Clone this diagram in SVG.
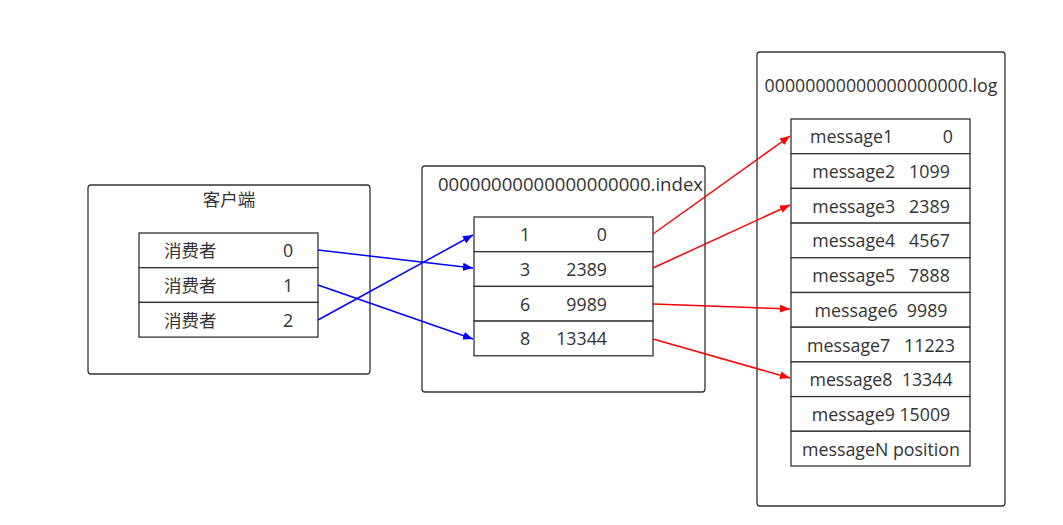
<svg xmlns="http://www.w3.org/2000/svg" width="1063" height="525" viewBox="0 0 1063 525">
<defs>
<style>
.box{fill:#fff;stroke:#333;stroke-width:1.3}
.cell{fill:#fff;stroke:#333;stroke-width:1.3}
text{font-family:"Open Sans","Noto Sans","Noto Sans CJK SC",sans-serif;font-size:17.8px;fill:#333}
.cjk{font-size:17.5px}
.c{text-anchor:middle}
.e{text-anchor:end}
.blue{stroke:#0000ff;stroke-width:1.5;fill:none;marker-end:url(#ab)}
.red{stroke:#ff0000;stroke-width:1.5;fill:none;marker-end:url(#ar)}
</style>
<marker id="ab" viewBox="0 0 10 10" refX="10" refY="5" markerWidth="10" markerHeight="10" markerUnits="userSpaceOnUse" orient="auto"><path d="M0,1 L10,5 L0,9 Z" fill="#0000ff"/></marker>
<marker id="ar" viewBox="0 0 10 10" refX="10" refY="5" markerWidth="10" markerHeight="10" markerUnits="userSpaceOnUse" orient="auto"><path d="M0,1 L10,5 L0,9 Z" fill="#ff0000"/></marker>
</defs>
<rect width="1063" height="525" fill="#fff"/>
<g id="client">
<rect class="box" x="88" y="185" width="282" height="189" rx="3"/>
<text class="c cjk" x="229" y="206">客户端</text>
<rect class="cell" x="139" y="233" width="179" height="34.7"/>
<rect class="cell" x="139" y="267.7" width="179" height="34.7"/>
<rect class="cell" x="139" y="302.4" width="179" height="34.7"/>
<text class="cjk" x="164" y="257">消费者</text><text class="c" x="288" y="257">0</text>
<text class="cjk" x="164" y="292">消费者</text><text class="c" x="288" y="292">1</text>
<text class="cjk" x="164" y="327">消费者</text><text class="c" x="288" y="327">2</text>
</g>
<g id="index">
<rect class="box" x="422" y="166" width="283" height="226" rx="3"/>
<text class="c" x="570.5" y="191" style="font-size:18.6px">00000000000000000000.index</text>
<rect class="cell" x="474" y="217" width="179" height="34.7"/>
<rect class="cell" x="474" y="251.7" width="179" height="34.7"/>
<rect class="cell" x="474" y="286.4" width="179" height="34.7"/>
<rect class="cell" x="474" y="321.1" width="179" height="34.7"/>
<text class="c" x="525" y="241">1</text><text class="e" x="607" y="241">0</text>
<text class="c" x="525" y="276">3</text><text class="e" x="607" y="276">2389</text>
<text class="c" x="525" y="311">6</text><text class="e" x="607" y="311">9989</text>
<text class="c" x="525" y="345">8</text><text class="e" x="607" y="345">13344</text>
</g>
<g id="log">
<rect class="box" x="757" y="52" width="248" height="454" rx="3"/>
<text class="c" x="881" y="92">00000000000000000000.log</text>
<rect class="cell" x="791" y="119" width="179" height="34.7"/>
<rect class="cell" x="791" y="153.7" width="179" height="34.7"/>
<rect class="cell" x="791" y="188.4" width="179" height="34.7"/>
<rect class="cell" x="791" y="223.1" width="179" height="34.7"/>
<rect class="cell" x="791" y="257.8" width="179" height="34.7"/>
<rect class="cell" x="791" y="292.5" width="179" height="34.7"/>
<rect class="cell" x="791" y="327.2" width="179" height="34.7"/>
<rect class="cell" x="791" y="361.9" width="179" height="34.7"/>
<rect class="cell" x="791" y="396.6" width="179" height="34.7"/>
<rect class="cell" x="791" y="431.3" width="179" height="34.7"/>
<text x="810" y="143">message1</text><text class="e" x="953" y="143">0</text>
<text class="c" x="881" y="178" xml:space="preserve">message2   1099</text>
<text class="c" x="881" y="213" xml:space="preserve">message3   2389</text>
<text class="c" x="881" y="247" xml:space="preserve">message4   4567</text>
<text class="c" x="881" y="282" xml:space="preserve">message5   7888</text>
<text class="c" x="881" y="317" xml:space="preserve">message6  9989</text>
<text class="c" x="881" y="352" xml:space="preserve">message7   11223</text>
<text class="c" x="881" y="386" xml:space="preserve">message8  13344</text>
<text class="c" x="881" y="421">message9 15009</text>
<text class="c" x="881" y="456">messageN position</text>
</g>
<g id="connectors">
<line class="blue" x1="318" y1="250" x2="473" y2="268"/>
<line class="blue" x1="318" y1="285" x2="473" y2="339"/>
<line class="blue" x1="318" y1="320" x2="473" y2="235"/>
<line class="red" x1="653" y1="234" x2="790" y2="136"/>
<line class="red" x1="653" y1="268" x2="790" y2="205"/>
<line class="red" x1="653" y1="304" x2="790" y2="309"/>
<line class="red" x1="653" y1="339" x2="790" y2="378"/>
</g>
</svg>
